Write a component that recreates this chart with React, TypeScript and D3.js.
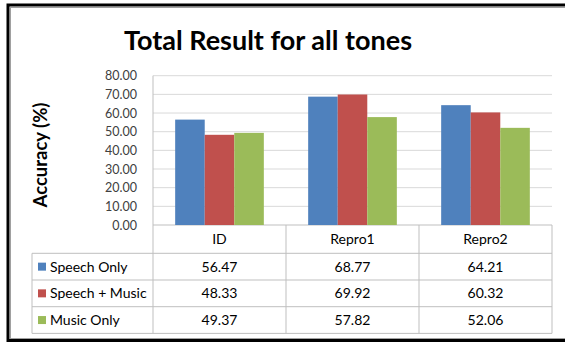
import React from 'react';
import * as d3 from 'd3';

const categories = ['ID', 'Repro1', 'Repro2'];
const seriesNames = ['Speech Only', 'Speech + Music', 'Music Only'];
const speechOnly = [56.47, 68.77, 64.21];
const speechMusic = [48.33, 69.92, 60.32];
const musicOnly = [49.37, 57.82, 52.06];
const colors = ['#4F81BD', '#C0504D', '#9BBB59'];
const yTicks = [0, 10, 20, 30, 40, 50, 60, 70, 80];

const series = [speechOnly, speechMusic, musicOnly];
const font = 'Lato, "Open Sans", sans-serif';

export default function App() {
  const W = 565, H = 342;
  const plot = { left: 153, right: 552, top: 75.7, bottom: 225 };
  const table = { left: 32, rowH: 26.7, headH: 28.3 };

  const x = d3.scaleBand().domain(categories).range([plot.left, plot.right]);
  // gap width 150% in Excel terms: 3 bars + 1.5 bar gap
  const barW = x.bandwidth() / 4.5;
  const y = d3.scaleLinear().domain([0, 80]).range([plot.bottom, plot.top]);

  const headBottom = plot.bottom + table.headH;
  const rowY = (i: number) => headBottom + i * table.rowH;
  const tableBottom = rowY(3);
  const gridColor = '#D9D9D9';
  const lineColor = '#BFBFBF';

  return (
    <div style={{ position: 'absolute', left: 0, top: 0 }}>
      <svg width={W} height={H} style={{ display: 'block', background: '#fff' }}>
        {/* frame */}
        <rect x={8} y={5} width={W} height={335.5} fill="none" stroke="#000" strokeWidth={3} />
        <rect x={10.5} y={7.5} width={W} height={331} fill="none" stroke="#A0A0A0" strokeWidth={1} />

        <text x={268} y={50} textAnchor="middle" fontFamily={font} fontWeight="bold" fontSize={27} fill="#000">
          Total Result for all tones
        </text>

        <text transform={`translate(47,155) rotate(-90)`} textAnchor="middle" fontFamily={font}
          fontWeight="bold" fontSize={18.5} fill="#000">
          Accuracy (%)
        </text>

        {/* gridlines */}
        {yTicks.map(t => (
          <g key={t}>
            <line x1={plot.left} x2={plot.right} y1={y(t)} y2={y(t)} stroke={t === 0 ? lineColor : gridColor} strokeWidth={1} />
            <text x={137} y={y(t) + 4.5} textAnchor="end" fontFamily={font} fontSize={12.5} fill="#404040">
              {d3.format('.2f')(t)}
            </text>
          </g>
        ))}
        <line x1={plot.left} x2={plot.left} y1={plot.top} y2={plot.bottom} stroke={lineColor} />

        {/* bars */}
        {series.map((vals, si) =>
          vals.map((v, ci) => (
            <rect key={`${si}-${ci}`}
              x={(x(categories[ci]) as number) + barW * 0.75 + si * barW}
              y={y(v)} width={barW} height={y(0) - y(v)} fill={colors[si]} />
          ))
        )}

        {/* data table */}
        {[0, 1, 2, 3].map(i => (
          <line key={i} x1={table.left} x2={plot.right} y1={rowY(i)} y2={rowY(i)} stroke={lineColor} />
        ))}
        <line x1={table.left} x2={table.left} y1={headBottom} y2={tableBottom} stroke={lineColor} />
        {categories.map(c => (
          <line key={c} x1={(x(c) as number) + x.bandwidth()} x2={(x(c) as number) + x.bandwidth()}
            y1={plot.bottom} y2={tableBottom} stroke={lineColor} />
        ))}
        <line x1={plot.left} x2={plot.left} y1={plot.bottom} y2={tableBottom} stroke={lineColor} />

        {categories.map(c => (
          <text key={c} x={(x(c) as number) + x.bandwidth() / 2} y={plot.bottom + table.headH / 2 + 5}
            textAnchor="middle" fontFamily={font} fontSize={14} fill="#000">
            {c}
          </text>
        ))}

        {seriesNames.map((name, si) => (
          <g key={name}>
            <rect x={38} y={rowY(si) + table.rowH / 2 - 4} width={8} height={8} fill={colors[si]} />
            <text x={50} y={rowY(si) + table.rowH / 2 + 5} fontFamily={font} fontSize={14} fill="#000">
              {name}
            </text>
            {series[si].map((v, ci) => (
              <text key={ci} x={(x(categories[ci]) as number) + x.bandwidth() / 2} y={rowY(si) + table.rowH / 2 + 5}
                textAnchor="middle" fontFamily={font} fontSize={14} fill="#000">
                {d3.format('.2f')(v)}
              </text>
            ))}
          </g>
        ))}
      </svg>
    </div>
  );
}
